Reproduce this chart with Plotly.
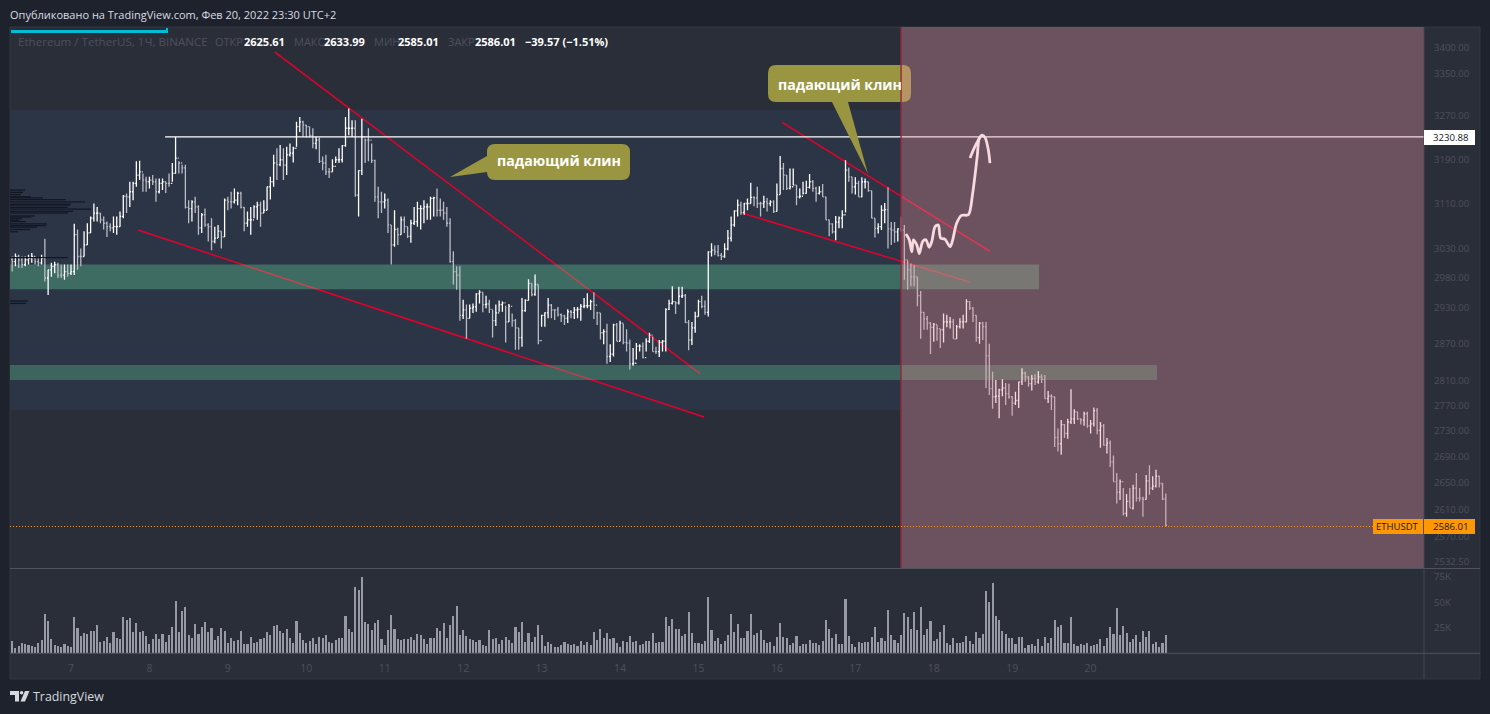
import datetime as dt
import math
import pandas as pd
import plotly.graph_objects as go

W, H = 1490, 714
FONT = "Open Sans"

highs = [3017,3022,3020,3017,3017,3020,3023,3017,3014,3020,3048,2994,3006,3008,3006,3003,3003,3003,3003,3074,
 3064,3031,3061,3075,3087,3110,3104,3093,3087,3078,3075,3087,3087,3096,3125,3128,3149,3149,3186,3187,
 3164,3158,3158,3161,3155,3155,3155,3149,3164,3183,3231,3186,3180,3180,3116,3116,3122,3107,3093,3101,
 3075,3084,3069,3072,3061,3119,3122,3131,3137,3131,3131,3104,3096,3104,3107,3113,3113,3116,3140,3158,
 3198,3210,3216,3210,3213,3219,3213,3259,3268,3261,3253,3250,3247,3231,3230,3195,3198,3174,3190,3195,
 3210,3216,3268,3284,3262,3262,3170,3265,3228,3247,3219,3189,3140,3131,3128,3119,3072,3098,3067,3087,
 3087,3069,3081,3104,3113,3107,3116,3110,3122,3122,3137,3119,3113,3104,3084,3026,3000,
 3000,2943,2935,2935,2937,2954,2959,2956,2950,2943,2926,2935,2942,2940,
 2933,2936,2920,2911,2896,2946,2944,2978,2971,2986,2969,2918,2922,2946,2936,2927,2931,2920,2918,2927,
 2926,2931,2931,2936,2946,2954,2943,2956,2923,2921,2894,2903,2869,2903,2904,2908,2903,2894,2877,2863,
 2871,2869,2872,2879,2888,2882,2865,2876,2876,2929,2943,2966,2940,2965,2965,2953,2909,2906,2923,2943,
 2950,2942,3026,3040,3036,3037,3023,3040,3063,3087,3098,3117,3113,3111,3119,3147,3123,3140,3113,3124,
 3120,3116,3116,3146,
 3196,3183,3161,3173,3173,3143,3137,3149,3151,3163,3152,3140,3141,3145,3122,3081,3075,3088,3087,3098,
 3188,3175,3158,3157,3151,3157,3155,3149,3133,3084,3075,3107,3111,3139,3077,3077,3066,3087,3072,3010,
 3005,3002,2982,
 2958,2922,2916,2906,2904,2901,2894,2920,2918,2914,2911,2901,2912,2918,2944,2941,2931,2917,2906,2906,
 2906,2870,2824,2811,2797,2812,2806,2805,2785,2792,2808,2830,2824,2817,2819,2820,2825,2820,2819,2793,
 2788,2784,2734,2747,2741,2749,2796,2764,2760,2750,2760,2760,2747,2767,2766,2744,2741,2719,2715,2692,
 2665,2655,2642,2633,2642,2647,2665,2642,2629,2662,2677,2660,2670,2661,2650,2633.99]

lows = [2991,3000,2997,2997,3000,3003,3006,3003,3000,3003,2974,2951,2982,2988,2980,2980,2977,2982,2985,2985,
 2994,3000,3017,3037,3058,3078,3078,3075,3064,3051,3061,3058,3055,3069,3084,3093,3104,3116,3140,3152,
 3131,3131,3137,3143,3113,3128,3134,3129,3140,3149,3164,3164,3164,3101,3075,3078,3093,3055,3058,3069,
 3043,3028,3040,3049,3031,3051,3098,3101,3110,3107,3101,3061,3069,3055,3084,3081,3069,3093,3098,3117,
 3140,3152,3177,3152,3161,3195,3184,3213,3240,3231,3230,3230,3210,3208,3183,3170,3161,3156,3167,3183,
 3183,3184,3213,3234,3231,3122,3087,3161,3183,3186,3183,3113,3084,3093,3101,3058,3003,3034,3037,3055,
 3058,3049,3041,3072,3069,3064,3075,3081,3081,3087,3087,3087,3081,3069,3006,2969,2960,
 2908,2911,2878,2912,2921,2923,2937,2922,2929,2921,2880,2899,2923,2923,
 2872,2906,2898,2860,2860,2865,2923,2942,2949,2950,2869,2898,2898,2912,2912,2909,2915,2906,2901,2904,
 2912,2911,2912,2908,2929,2929,2926,2911,2901,2877,2869,2837,2840,2849,2874,2874,2869,2857,2828,2834,
 2844,2857,2846,2857,2871,2857,2853,2848,2857,2857,2926,2935,2919,2935,2946,2904,2859,2868,2888,2915,
 2929,2918,2915,3017,3019,3017,3011,3015,3028,3043,3069,3087,3090,3090,3098,3110,3105,3102,3087,3102,
 3096,3105,3093,3096,
 3126,3134,3134,3135,3143,3107,3119,3126,3128,3137,3131,3113,3126,3122,3081,3052,3057,3045,3066,3066,
 3094,3149,3128,3126,3122,3121,3137,3131,3084,3050,3057,3063,3075,3031,3037,3041,3043,3060,2977,2960,
 2966,2966,2932,
 2878,2893,2893,2853,2873,2875,2863,2872,2897,2895,2878,2878,2895,2895,2905,2926,2906,2873,2870,2876,
 2798,2787,2765,2774,2750,2785,2771,2781,2754,2771,2766,2803,2808,2800,2794,2803,2805,2806,2781,2774,
 2763,2705,2698,2693,2719,2718,2741,2741,2747,2740,2738,2735,2726,2737,2725,2704,2707,2695,2674,2652,
 2619,2624,2601,2599,2613,2610,2622,2622,2599,2625,2632,2639,2643,2643,2624,2585.01]

closes = [3008,3017,3011,3003,3011,3014,3017,3008,3006,3014,2980,2994,3000,3003,2985,2985,2991,2988,2991,3055,
 3017,3017,3037,3058,3084,3093,3093,3081,3075,3069,3067,3069,3069,3087,3123,3122,3131,3146,3161,3167,
 3152,3149,3152,3149,3131,3146,3149,3146,3146,3164,3192,3183,3174,3103,3101,3113,3104,3067,3090,3072,
 3069,3043,3049,3061,3051,3116,3113,3113,3116,3128,3103,3075,3081,3081,3104,3107,3093,3098,3140,3149,
 3183,3180,3189,3179,3198,3201,3210,3250,3259,3253,3250,3234,3219,3225,3186,3183,3167,3167,3177,3189,
 3189,3215,3247,3247,3247,3125,3169,3231,3225,3225,3188,3122,3113,3113,3116,3072,3037,3064,3055,3081,
 3069,3052,3075,3078,3101,3101,3104,3104,3119,3120,3098,3098,3093,3075,3008,2991,2985,
 2917,2926,2912,2929,2931,2953,2956,2935,2936,2927,2908,2921,2935,2938,
 2906,2932,2908,2896,2880,2925,2942,2971,2952,2969,2875,2917,2921,2934,2926,2926,2918,2916,2912,2923,
 2922,2926,2927,2932,2933,2933,2940,2934,2921,2888,2890,2849,2853,2901,2874,2904,2872,2871,2837,2838,
 2866,2866,2847,2874,2884,2857,2857,2872,2874,2927,2937,2940,2938,2949,2950,2905,2876,2896,2915,2940,
 2932,2922,3025,3028,3025,3019,3017,3030,3049,3072,3097,3107,3094,3110,3110,3121,3120,3110,3110,3113,
 3110,3113,3096,3126,
 3173,3161,3137,3140,3143,3122,3123,3128,3139,3149,3137,3128,3131,3122,3081,3074,3060,3077,3084,3090,
 3170,3158,3140,3146,3122,3149,3149,3133,3084,3066,3069,3098,3099,3065,3063,3060,3065,3063,3011,2994,
 2982,2982,2950,
 2922,2911,2904,2897,2902,2895,2893,2906,2906,2906,2878,2898,2906,2906,2940,2929,2917,2880,2904,2898,
 2850,2797,2784,2785,2795,2798,2789,2784,2774,2778,2808,2822,2816,2805,2813,2808,2816,2812,2781,2785,
 2784,2720,2710,2740,2726,2744,2749,2760,2749,2747,2757,2738,2741,2762,2731,2738,2708,2711,2682,2652,
 2636,2652,2604,2622,2612,2642,2627,2627,2625,2653,2642,2645,2660,2649,2625.61,2586.01]

first_open = 3012
volumes_k = [12.1,4.9,7.2,9.8,9.2,7.8,7.2,6.2,9.8,13.1,38.6,31.7,14.1,8.2,7.2,6.2,9.2,7.2,6.5,35.6,
 24.9,17.0,19.9,19.0,21.9,21.9,27.8,11.1,12.1,16.0,10.1,20.9,15.0,14.1,35.6,32.7,34.7,20.9,29.8,20.9,
 21.9,17.0,9.2,14.1,19.0,14.1,19.0,11.1,18.0,25.8,51.3,20.9,41.5,45.5,18.0,15.0,28.8,19.0,25.8,30.7,
 20.9,24.9,13.1,17.0,24.9,21.9,10.1,15.0,12.1,13.1,21.9,9.2,9.2,16.0,10.1,11.1,14.1,15.0,20.9,18.0,
 26.8,27.8,21.9,19.9,23.9,15.0,10.1,31.7,19.9,13.1,10.1,12.1,15.0,9.2,16.0,15.0,18.0,11.1,10.1,13.1,
 15.0,15.0,36.6,23.9,20.9,65.1,62.1,74.9,30.7,28.8,22.9,29.8,32.7,14.1,8.2,22.9,37.6,23.9,14.1,
 12.8,14.1,14.1,16.0,13.1,19.0,18.0,14.1,9.2,15.0,15.0,24.9,21.9,29.8,15.0,27.8,36.6,46.4,18.0,22.9,
 17.0,14.1,13.1,11.1,13.1,8.2,7.2,22.9,14.1,15.0,9.2,13.1,16.0,13.1,10.1,25.8,20.9,30.7,11.1,19.9,
 11.1,16.0,27.8,18.0,7.2,11.1,9.2,6.2,6.2,8.2,11.1,9.2,8.2,9.2,7.2,12.1,8.2,11.1,8.2,20.9,
 13.1,23.9,15.0,19.9,14.1,15.0,10.1,6.2,12.1,11.1,17.0,11.1,12.1,8.2,9.2,12.1,12.1,19.9,10.1,11.1,
 11.1,35.6,26.8,33.7,23.9,23.9,17.0,19.0,40.5,19.9,10.1,10.1,9.2,12.1,55.3,22.9,12.1,15.0,9.2,12.1,
 18.0,38.6,20.9,28.8,15.0,15.0,21.9,38.6,18.0,19.9,22.9,13.1,10.1,11.1,7.2,16.0,29.8,16.0,15.0,8.2,
 10.1,17.0,7.2,
 9.2,9.2,13.1,10.1,10.1,8.2,12.1,32.7,23.9,15.0,19.0,9.2,9.2,53.3,17.0,9.2,6.2,11.1,10.1,11.1,
 11.1,16.0,25.8,11.1,15.0,12.1,42.5,18.0,13.1,10.1,18.0,39.6,35.6,23.9,40.5,22.9,45.5,18.0,23.9,31.7,
 12.1,14.1,20.9,27.8,10.1,8.2,15.0,10.1,10.1,11.1,17.0,12.1,9.2,20.9,15.0,19.0,61.1,50.4,69.0,36.6,
 32.7,21.9,19.0,15.0,15.0,9.2,16.0,16.0,5.2,8.2,9.2,7.2,14.1,7.2,16.0,10.1,15.0,32.7,25.8,27.8,
 10.1,10.1,35.6,9.2,7.2,9.2,8.2,10.1,7.2,8.2,9.2,14.1,7.2,15.0,25.8,19.0,44.5,18.0,26.8,19.9,
 11.1,14.1,18.0,11.1,21.9,16.0,21.9,9.2,11.1,6.2,10.1,18.0]

day_ticks = [7, 8, 9, 10, 11, 12, 13, 14, 15, 16, 17, 18, 19, 20]
price_ticks = [3400, 3350, 3270, 3190, 3110, 3030, 2980, 2930, 2870, 2810, 2770, 2730, 2690, 2650, 2610, 2570, 2532.5]
volume_ticks = [25, 50, 75]

# hours after 7 Feb 00:00 and prices of the hand drawn lines
wedge_lines = [([62.4, 192.5], [3392, 2821]),
               ([20.5, 193.7], [3063, 2752]),
               ([217.6, 281.2], [3258, 3026]),
               ([205.3, 275.1], [3093, 2973])]
shaft_h = [255.5,256.5,257.3,257.75,258.8,259.6,260.6,261.6,262.6,263.4,264.4,265.4,266.1,267.4,269,269.8,271,272.5,274.6,275.9,277.3,277.9,278.7]
shaft_p = [3056,3046,3025,3046,3037,3022,3043,3046,3033,3043,3069,3072,3049,3047,3034,3046,3075,3089,3090,3128,3195,3228,3234]
head_h = [275.1,276.6,278.7,279.7,280.7,281.2]
head_p = [3192,3213,3234,3230,3207,3183]

resistance = 3230.88
last_price = 2586.01
zone_a = (2961, 3003)
zone_b = (2811, 2835)
range_box = (2763, 3281)

profile_p = [3134,3130,3126,3122,3120,3117,3113,3109,3107,3103,3100,3096,3093,3088,3086,3083,3080,3078,3074,3071,3068,3064,3060,3015,2941,2937]
profile_v = [15,13,11,21,33,56,75,61,60,58,81,63,58,25,21,12,9,16,37,36,27,20,8,58,18,16]

# ---------------------------------------------------------------- helpers
T0 = dt.datetime(2022, 2, 7)
PX_HOUR = 3.268
def hrs(h):
    return T0 + dt.timedelta(hours=h)
def at(hours):
    return [hrs(h) for h in hours]
def X(p): return p / W
def Y(p): return 1 - p / H

L, R, TOP, PB, VT, VB, BOT = 10, 1424, 27, 568, 569, 653, 679
x_start = hrs((L - 71) / PX_HOUR)
x_end = hrs((R - 71) / PX_HOUR)
last = dt.datetime(2022, 2, 20, 23)
times = pd.date_range(end=last, periods=len(closes), freq="h")
vtimes = pd.date_range(end=last, periods=len(volumes_k), freq="h")
opens = [first_open] + closes[:-1]

fig = go.Figure()
# volume profile
pfx, pfy = [], []
for p, v in zip(profile_p, profile_v):
    pfx += [x_start, x_start + dt.timedelta(hours=v / PX_HOUR), None]
    pfy += [p, p, None]
fig.add_trace(go.Scatter(x=pfx, y=pfy, mode="lines", line=dict(color="#131722", width=1.3), xaxis="x", yaxis="y", showlegend=False))
fig.add_trace(go.Ohlc(x=times, open=opens, high=highs, low=lows, close=closes, tickwidth=0.36,
                      increasing=dict(line=dict(color="#ffffff", width=1.3)),
                      decreasing=dict(line=dict(color="#b9bcc4", width=1.3)),
                      xaxis="x", yaxis="y", showlegend=False))
fig.add_trace(go.Scatter(x=[hrs(28.8), x_end], y=[resistance, resistance], mode="lines",
                         line=dict(color="#ffffff", width=1.3), xaxis="x", yaxis="y", showlegend=False))
for hh, pp in [(shaft_h, shaft_p), (head_h, head_p)]:
    fig.add_trace(go.Scatter(x=at(hh), y=pp, mode="lines", line=dict(color="#ffffff", width=2.8, shape="spline", smoothing=0.8),
                             xaxis="x", yaxis="y", showlegend=False))
fig.add_trace(go.Bar(x=vtimes, y=volumes_k, marker=dict(color="#989aa3", line=dict(width=0)), width=2.1 / PX_HOUR * 3600000,
                     xaxis="x2", yaxis="y2", showlegend=False))

def rrect(x0, y0, x1, y1, r, tail=None):
    """rounded box path in paper units, with an optional callout tail."""
    def P(a, b): return f"{X(a):.5f},{Y(b):.5f}"
    s = f"M{P(x0 + r, y0)} L{P(x1 - r, y0)} Q{P(x1, y0)} {P(x1, y0 + r)} L{P(x1, y1 - r)} Q{P(x1, y1)} {P(x1 - r, y1)} "
    if tail and tail[0] == "bottom":
        for a, b in tail[1]:
            s += f"L{P(a, b)} "
    s += f"L{P(x0 + r, y1)} Q{P(x0, y1)} {P(x0, y1 - r)} "
    if tail and tail[0] == "left":
        for a, b in tail[1]:
            s += f"L{P(a, b)} "
    s += f"L{P(x0, y0 + r)} Q{P(x0, y0)} {P(x0 + r, y0)} Z"
    return s

def pr(x0, y0, x1, y1, fill, layer="above", line=None):
    return dict(type="rect", xref="paper", yref="paper", x0=X(x0), x1=X(x1), y0=Y(y0), y1=Y(y1), fillcolor=fill,
                line=dict(width=1 if line else 0, color=line or "rgba(0,0,0,0)"), layer=layer)
def pl(x0, y0, x1, y1, color, width=1, dash="solid"):
    return dict(type="line", xref="paper", yref="paper", x0=X(x0), x1=X(x1), y0=Y(y0), y1=Y(y1),
                line=dict(color=color, width=width, dash=dash), layer="above")

OLIVE = "#9a9540"
shapes = [
    pr(L, TOP, 1480, BOT, "#2a2e39", "below", "#333743"),
    dict(type="rect", xref="x", yref="y", x0=x_start, x1=hrs(254.0), y0=range_box[0], y1=range_box[1], fillcolor="#2c3546", line=dict(width=0), layer="below"),
]
for hh, pp in wedge_lines:
    shapes.append(dict(type="line", xref="x", yref="y", x0=hrs(hh[0]), x1=hrs(hh[1]), y0=pp[0], y1=pp[1],
                       line=dict(color="#e4002b", width=1.5), layer="below"))
shapes += [
    dict(type="rect", xref="x", yref="y", x0=x_start, x1=hrs(296.2), y0=zone_a[0], y1=zone_a[1], fillcolor="rgba(98,213,153,0.34)", line=dict(width=0), layer="below"),
    dict(type="rect", xref="x", yref="y", x0=x_start, x1=hrs(332.3), y0=zone_b[0], y1=zone_b[1], fillcolor="rgba(98,213,153,0.30)", line=dict(width=0), layer="below"),
    dict(type="path", xref="paper", yref="paper", path=rrect(487, 144, 630, 180, 8, ("left", [(487, 172), (450, 177), (487, 156)])), fillcolor=OLIVE, line=dict(width=0), layer="above"),
    dict(type="path", xref="paper", yref="paper", path=rrect(768, 65, 911, 102, 8, ("bottom", [(848, 102), (868, 174), (832, 102)])), fillcolor=OLIVE, line=dict(width=0), layer="above"),
    dict(type="rect", xref="x", yref="paper", x0=hrs(254.0), x1=x_end, y0=Y(PB), y1=Y(TOP), fillcolor="rgba(231,149,163,0.35)", line=dict(width=0), layer="above"),
    dict(type="line", xref="x", yref="paper", x0=hrs(254.0), x1=hrs(254.0), y0=Y(PB), y1=Y(TOP), line=dict(color="#98273d", width=1.4), layer="above"),
    pl(R, TOP, R, BOT, "#434651"),
    pl(L, 568.5, 1480, 568.5, "#50535e"),
    pl(L, 653.3, 1480, 653.3, "#50535e"),
    pl(L, 526.5, 1373, 526.5, "#ff9800", 1, "1px,2px"),
    pr(11, 30, 168, 33, "#00bcd4"),
    pr(166, 28, 168, 33, "#00bcd4"),
    pr(1424, 130, 1475, 145, "#ffffff"),
    pr(1373, 519, 1423, 534, "#ff9800"),
    pr(1424, 519, 1475, 534, "#ff9800"),
    # logo
    dict(type="path", xref="paper", yref="paper", fillcolor="#d6d8df", line=dict(width=0), layer="above",
         path="M{},{} L{},{} L{},{} L{},{} L{},{} L{},{} Z".format(X(10), Y(691), X(19), Y(691), X(19), Y(701.5), X(15), Y(701.5), X(15), Y(695), X(10), Y(695))),
    dict(type="circle", xref="paper", yref="paper", x0=X(19.8), x1=X(23.4), y0=Y(691), y1=Y(694.6), fillcolor="#d6d8df", line=dict(width=0), layer="above"),
    dict(type="path", xref="paper", yref="paper", fillcolor="#d6d8df", line=dict(width=0), layer="above",
         path="M{},{} L{},{} L{},{} L{},{} Z".format(X(25), Y(691), X(29.5), Y(691), X(25), Y(701.5), X(20.5), Y(701.5))),
]

def txt(x, y, s, color, size=10.5, anchor="left", bold=False):
    return dict(xref="paper", yref="paper", x=X(x), y=Y(y), text=f"<b>{s}</b>" if bold else s, showarrow=False, xanchor=anchor,
                yanchor="middle", font=dict(family=FONT, size=size, color=color), borderpad=0, borderwidth=0)

DIM = "#4d505c"
annos = [
    txt(10, 14, "Опубликовано на TradingView.com, Фев 20, 2022 23:30 UTC+2", "#d9dbe2", 11),
    txt(18, 41.5, "Ethereum / TetherUS, 1Ч, BINANCE", DIM, 11.6),
    txt(215, 41.5, "ОТКР", DIM, 11), txt(244, 41.5, "2625.61", "#ffffff", 11, bold=True),
    txt(294, 41.5, "МАКС", DIM, 11), txt(324, 41.5, "2633.99", "#ffffff", 11, bold=True),
    txt(374, 41.5, "МИН", DIM, 11), txt(398, 41.5, "2585.01", "#ffffff", 11, bold=True),
    txt(448, 41.5, "ЗАКР", DIM, 11), txt(475, 41.5, "2586.01", "#ffffff", 11, bold=True),
    txt(525, 41.5, "−39.57 (−1.51%)", "#ffffff", 11, bold=True),
    txt(558.5, 161, "падающий клин", "#ffffff", 14.2, "center", bold=True),
    txt(839.5, 84, "падающий клин", "#ffffff", 14.2, "center", bold=True),
    txt(1433, 137.5, "3230.88", "#131722", 9.6),
    txt(1376, 526.5, "ETHUSDT", "#131722", 9.5),
    txt(1433, 526.5, "2586.01", "#131722", 9.6),
    txt(33, 696, "TradingView", "#d6d8df", 12.4),
]

pdom = [Y(PB), Y(TOP)]
vdom = [Y(VB + 0.3), Y(VT)]
fig.update_layout(
    width=W, height=H, margin=dict(l=0, r=0, t=0, b=0), autosize=False,
    paper_bgcolor="#1e222d", plot_bgcolor="rgba(0,0,0,0)", showlegend=False, hovermode=False, bargap=0,
    font=dict(family=FONT, size=10, color=DIM),
    xaxis=dict(domain=[X(L), X(R)], range=[x_start, x_end], type="date", anchor="y", showgrid=False, zeroline=False,
               showticklabels=False, ticks="", rangeslider=dict(visible=False), showline=False),
    xaxis2=dict(domain=[X(L), X(R)], range=[x_start, x_end], type="date", anchor="y2", showgrid=False, zeroline=False,
                tickmode="array", tickvals=[dt.datetime(2022, 2, d) for d in day_ticks], ticktext=[str(d) for d in day_ticks],
                ticks="outside", ticklen=5, tickcolor="rgba(0,0,0,0)", tickfont=dict(family=FONT, size=10.5, color=DIM), showline=False),
    yaxis=dict(domain=pdom, type="log", range=[math.log10(2523.8), math.log10(3441)], side="right", anchor="x", showgrid=False, zeroline=False,
               tickmode="array", tickvals=price_ticks, ticktext=[f"{t:.2f}" for t in price_ticks],
               ticks="outside", ticklen=7, tickcolor="rgba(0,0,0,0)", tickfont=dict(family=FONT, size=9.6, color=DIM), showline=False),
    yaxis2=dict(domain=vdom, range=[0, 82.4], side="right", anchor="x2", showgrid=False, zeroline=False,
                tickmode="array", tickvals=volume_ticks, ticktext=[f"{t}K" for t in volume_ticks],
                ticks="outside", ticklen=7, tickcolor="rgba(0,0,0,0)", tickfont=dict(family=FONT, size=9.6, color=DIM), showline=False),
    shapes=shapes, annotations=annos,
)
fig.write_html("out.html", config=dict(displayModeBar=False),
               post_script="document.body.style.margin='0';document.body.style.overflow='hidden';document.body.style.background='#1e222d';")
